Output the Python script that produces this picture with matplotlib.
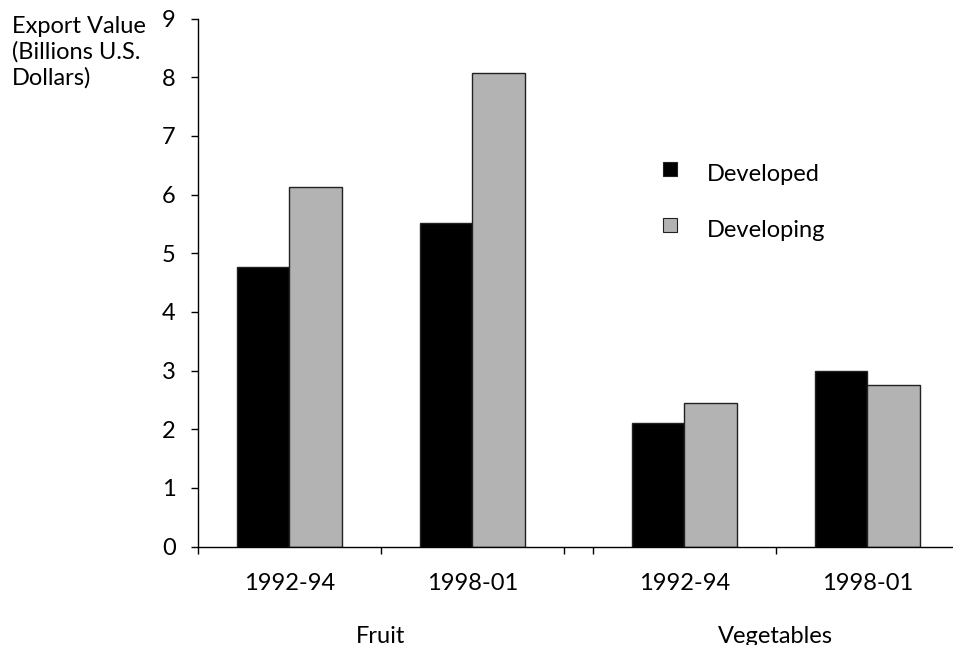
import matplotlib
matplotlib.use("Agg")
import matplotlib.pyplot as plt
from matplotlib.lines import Line2D

plt.rcParams['font.family'] = ['Lato', 'DejaVu Sans']

periods = ["1992-94", "1998-01", "1992-94", "1998-01"]
groups = ["Fruit", "Vegetables"]
series = ["Developed", "Developing"]
developed = [4.77, 5.52, 2.11, 3.00]
developing = [6.13, 8.07, 2.44, 2.75]
yticks = [0, 1, 2, 3, 4, 5, 6, 7, 8, 9]
colors = ['black', '#b3b3b3']

gap = 0.158  # space between Fruit and Vegetables blocks
pos = [0.5, 1.5, 2 + gap + 0.5, 3 + gap + 0.5]
w = 0.287
fs = 17

fig = plt.figure(figsize=(9.54, 6.45), dpi=100)
ax = fig.add_axes([198/954, (645-546.5)/645, (954-198)/954, (546.5-18.5)/645])

ax.bar([p - w/2 for p in pos], developed, w, color=colors[0],
       edgecolor='#222222', linewidth=1, label=series[0])
ax.bar([p + w/2 for p in pos], developing, w, color=colors[1],
       edgecolor='#222222', linewidth=1, label=series[1])

ax.set_ylim(0, 9)
ax.set_xlim(0, (954-198)/183)
ax.set_yticks(yticks)
ax.set_yticklabels([str(t) for t in yticks], fontsize=fs)

# boundaries of categories as major ticks, period labels as minor
ax.set_xticks([0, 1, 2, 2 + gap, 3 + gap])
ax.set_xticklabels([])
ax.set_xticks(pos, minor=True)
ax.set_xticklabels(periods, minor=True, fontsize=fs)
ax.tick_params(axis='x', which='minor', length=0, pad=19)
ax.tick_params(axis='x', which='major', length=5, width=1, direction='out')
ax.tick_params(axis='y', length=5, width=1, direction='out', pad=11)

for s in ['top', 'right']:
    ax.spines[s].set_visible(False)
for s in ['left', 'bottom']:
    ax.spines[s].set_linewidth(1)

# group labels
ax.text(1.0, -0.182, groups[0], transform=ax.get_xaxis_transform(),
        ha='center', va='baseline', fontsize=fs)
ax.text(2 + gap + 1.0, -0.182, groups[1], transform=ax.get_xaxis_transform(),
        ha='center', va='baseline', fontsize=fs)

fig.text(12/954, 1 - 16/645, "Export Value\n(Billions U.S.\nDollars)",
         ha='left', va='top', fontsize=fs, linespacing=1.24)

handles = [Line2D([], [], linestyle='none', marker='s', markersize=9.4,
                  markerfacecolor=c, markeredgecolor='#222222',
                  markeredgewidth=0.8) for c in colors]
ax.legend(handles, series, loc='upper left',
          bbox_to_anchor=(663/954, 1 - 156/645), bbox_transform=fig.transFigure,
          frameon=False, fontsize=fs, handlelength=0.6, handleheight=1.9,
          handletextpad=1.26, labelspacing=0.9, borderpad=0, borderaxespad=0)

fig.savefig("out.png", dpi=100)
